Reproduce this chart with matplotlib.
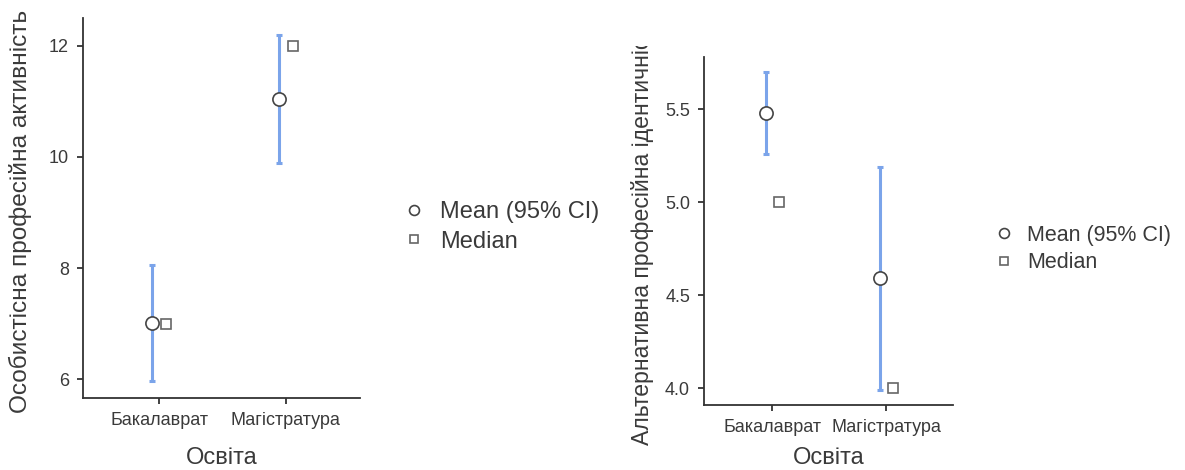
import matplotlib

matplotlib.use("Agg")
import matplotlib.pyplot as plt  # noqa: E402
from matplotlib.transforms import Bbox  # noqa: E402

plt.rcParams["font.family"] = ["Liberation Sans", "DejaVu Sans"]

# --- data (jamovi descriptives plots) ---
groups = ["Бакалаврат", "Магістратура"]
x_title = "Освіта"

# left panel: Особистісна професійна активність
act_mean = [7.01, 11.04]
act_lo = [5.96, 9.89]
act_hi = [8.05, 12.20]
act_median = [7.0, 12.0]
act_ticks = [6, 8, 10, 12]
act_label = "Особистісна професійна активність"

# right panel: Альтернативна професійна ідентичність
alt_mean = [5.48, 4.59]
alt_lo = [5.26, 3.99]
alt_hi = [5.70, 5.19]
alt_median = [5.0, 4.0]
alt_ticks = [4.0, 4.5, 5.0, 5.5]
alt_label = "Альтернативна професійна ідентичність"

legend_labels = ["Mean (95% CI)", "Median"]

W, H = 1185, 470
BLUE = "#7ba4ea"
EDGE = "#444444"
TXT = "#3a3a3a"
DODGE = 0.055


def px_rect(x0, y0, x1, y1):
    """Pixel box (top-left origin) -> figure fraction rect."""
    return [x0 / W, (H - y1) / H, (x1 - x0) / W, (y1 - y0) / H]


def panel(fig, rect, means, lows, highs, medians, ticks, ylim, ylabel,
          ylab_xy, ylab_size, clip_top, xlab_y, leg_xy, leg_size):
    ax = fig.add_axes(rect)
    pos = list(range(len(groups)))
    xm = [p - DODGE for p in pos]
    xd = [p + DODGE for p in pos]
    err = [[m - lo for m, lo in zip(means, lows)],
           [hi - m for m, hi in zip(means, highs)]]
    ax.errorbar(xm, means, yerr=err, fmt="none", ecolor=BLUE,
                elinewidth=2.2, capsize=2.5, capthick=2.2, zorder=2)
    ax.plot(xm, means, "o", ms=9.5, mfc="white", mec=EDGE, mew=1.2,
            ls="none", label=legend_labels[0], zorder=3)
    ax.plot(xd, medians, "s", ms=7.5, mfc="white", mec="#666666", mew=1.2,
            ls="none", label=legend_labels[1], zorder=3)

    ax.set_xlim(-0.6, 1.585)
    ax.set_ylim(*ylim)
    ax.set_xticks(pos)
    ax.set_xticklabels(groups)
    ax.set_yticks(ticks)
    for side in ("top", "right"):
        ax.spines[side].set_visible(False)
    for side in ("left", "bottom"):
        ax.spines[side].set_color("#333333")
        ax.spines[side].set_linewidth(1.3)
    ax.tick_params(length=4, width=1.3, color="#333333", labelcolor=TXT,
                   labelsize=13, pad=6)

    ax.set_xlabel(x_title, fontsize=17, color=TXT, va="center")
    ax.xaxis.set_label_coords(0.5, xlab_y)

    t = fig.text(ylab_xy[0] / W, (H - ylab_xy[1]) / H, ylabel,
                 rotation=90, ha="center", va="bottom",
                 fontsize=ylab_size, color=TXT)
    t.set_clip_box(Bbox([[0, 0], [W, H - clip_top]]))
    t.set_clip_on(True)

    ax.legend(loc="center left", bbox_to_anchor=(leg_xy[0] / W, (H - leg_xy[1]) / H),
              bbox_transform=fig.transFigure, frameon=False, markerscale=0.75,
              handlelength=1.0, handletextpad=0.6, borderpad=0, borderaxespad=0,
              labelspacing=0.3, fontsize=leg_size, labelcolor=TXT)
    return ax


fig = plt.figure(figsize=(W / 100, H / 100), dpi=100)

panel(fig, px_rect(83, 18, 360, 398), act_mean, act_lo, act_hi, act_median,
      act_ticks, (5.66, 12.5), act_label, (20, 413), 17.6, -5, -0.158,
      (402, 227), 17)
panel(fig, px_rect(704, 57, 953, 405), alt_mean, alt_lo, alt_hi, alt_median,
      alt_ticks, (3.91, 5.78), alt_label, (643, 445), 16.6, 46, -0.152,
      (993, 249), 15.5)

fig.savefig("out.png", dpi=100)
